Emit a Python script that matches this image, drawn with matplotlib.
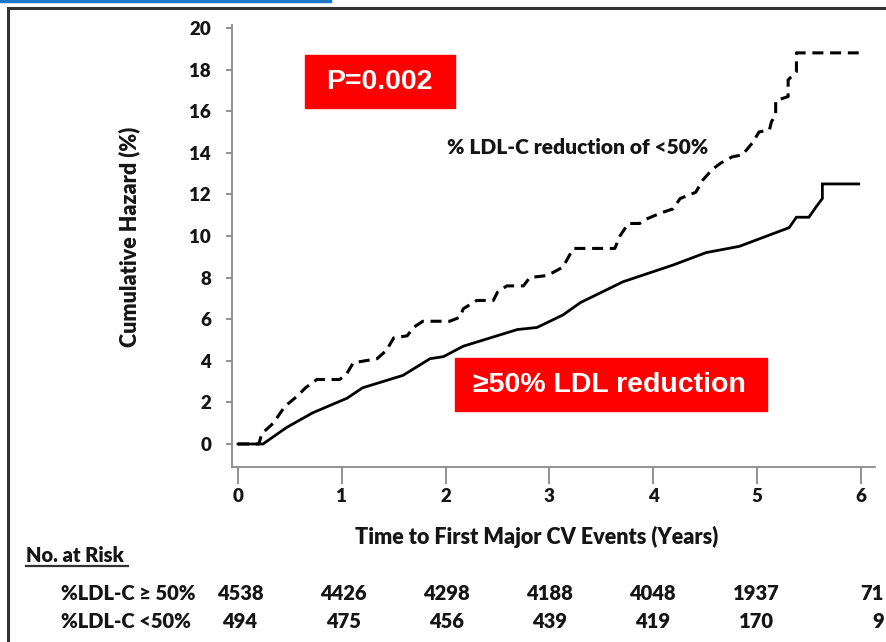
import matplotlib.pyplot as plt
from matplotlib.patches import Rectangle
from matplotlib.lines import Line2D

plt.rcParams["font.family"] = ["Lato", "DejaVu Sans"]
plt.rcParams["font.weight"] = "heavy"

W, H = 886, 642
TXT = "#151515"
WT = "heavy"

# ------------------------------------------------------------------ #
#  Data                                        #
# ------------------------------------------------------------------ #
# %LDL-C reduction >= 50% (solid)
hi_t = [0.0, 0.24, 0.47, 0.72, 1.05, 1.20, 1.59, 1.85, 1.98, 2.17, 2.43,
        2.69, 2.88, 3.13, 3.30, 3.71, 4.19, 4.51, 4.83, 5.15, 5.31, 5.38,
        5.50, 5.57, 5.63, 5.63, 5.98]
hi_h = [0.0, 0.0, 0.8, 1.5, 2.2, 2.7, 3.3, 4.1, 4.2, 4.7, 5.1,
        5.5, 5.6, 6.2, 6.8, 7.8, 8.6, 9.2, 9.5, 10.1, 10.4, 10.9,
        10.9, 11.4, 11.8, 12.5, 12.5]

# %LDL-C reduction < 50% (dashed)
lo_t = [0.0, 0.20, 0.23, 0.34, 0.45, 0.57, 0.65, 0.76, 0.98, 1.05, 1.11,
        1.34, 1.43, 1.50, 1.63, 1.69, 1.78, 2.04, 2.14, 2.17, 2.30, 2.46,
        2.50, 2.59, 2.75, 2.81, 2.98, 3.13, 3.23, 3.63, 3.68, 3.76, 3.87,
        3.93, 4.07, 4.19, 4.26, 4.41, 4.48, 4.57, 4.65, 4.76, 4.86, 4.96,
        5.02, 5.12, 5.14, 5.18, 5.18, 5.30, 5.30, 5.38, 5.38, 5.98]
lo_h = [0.0, 0.0, 0.5, 1.0, 1.8, 2.3, 2.7, 3.1, 3.1, 3.4, 3.9,
        4.1, 4.5, 5.1, 5.2, 5.6, 5.9, 5.9, 6.1, 6.5, 6.9, 6.9,
        7.3, 7.6, 7.6, 8.0, 8.1, 8.5, 9.4, 9.4, 10.0, 10.6, 10.6,
        10.8, 11.1, 11.3, 11.8, 12.1, 12.7, 13.2, 13.5, 13.8, 13.9, 14.5,
        15.0, 15.1, 15.5, 15.8, 16.5, 16.7, 17.5, 17.9, 18.8, 18.8]

x_ticks = [0, 1, 2, 3, 4, 5, 6]
y_ticks = [0, 2, 4, 6, 8, 10, 12, 14, 16, 18, 20]

risk_labels = ["%LDL-C \u2265 50%", "%LDL-C <50%"]
risk_hi = [4538, 4426, 4298, 4188, 4048, 1937, 71]
risk_lo = [494, 475, 456, 439, 419, 170, 9]


def fpx(x, y):
    """pixel position -> figure fraction"""
    return x / W, 1 - y / H


# ------------------------------------------------------------------ #
#  Figure                                                             #
# ------------------------------------------------------------------ #
fig = plt.figure(figsize=(W / 100, H / 100), dpi=100)

ax_l, ax_b = fpx(232, 467)
ax_r, ax_t = fpx(875, 25)
ax = fig.add_axes([ax_l, ax_b, ax_r - ax_l, ax_t - ax_b])

ax.plot(hi_t, hi_h, color="black", lw=2.0, solid_joinstyle="miter")
ax.plot(lo_t, lo_h, color="black", lw=2.2, linestyle=(0, (3.6, 2.2)))

ax.set_xlim(-0.058, 6.137)
ax.set_ylim(-1.106, 20.14)
ax.set_xticks(x_ticks)
ax.set_yticks(y_ticks)

for s in ["top", "right"]:
    ax.spines[s].set_visible(False)
for s in ["left", "bottom"]:
    ax.spines[s].set_color("#8a8a8a")
    ax.spines[s].set_linewidth(1.3)

ax.tick_params(axis="x", direction="out", length=12, width=1.3,
               color="#8a8a8a", pad=3, labelsize=13.5, labelcolor=TXT)
ax.tick_params(axis="y", direction="out", length=4, width=1.3,
               color="#8a8a8a", pad=11, labelsize=13.5, labelcolor=TXT)
for lab in ax.get_xticklabels() + ax.get_yticklabels():
    lab.set_fontweight(WT)

ax.set_ylabel("Cumulative Hazard (%)", fontsize=15.5, fontweight=WT,
              color=TXT)
ax.yaxis.set_label_coords((140 - 232) / (875 - 232), (467 - 237) / (467 - 25))

fig.text(*fpx(537, 537), "Time to First Major CV Events (Years)",
         ha="center", va="center", fontsize=15.5, fontweight=WT,
         color=TXT)

# in-plot annotations
fig.patches.append(Rectangle(fpx(305, 108), 150 / W, 53 / H,
                             transform=fig.transFigure, color="#ff0000",
                             zorder=3))
fig.text(*fpx(379, 82), "P=0.002", ha="center", va="center",
         family="Liberation Sans", fontsize=20.5, fontweight="bold",
         color="white", zorder=4)

fig.patches.append(Rectangle(fpx(455, 411), 312 / W, 53 / H,
                             transform=fig.transFigure, color="#ff0000",
                             zorder=3))
fig.text(*fpx(609, 385), "\u226550% LDL reduction", ha="center", va="center",
         family="Liberation Sans", fontsize=20.5, fontweight="bold",
         color="white", zorder=4)

fig.text(*fpx(578, 148), "% LDL-C reduction of <50%", ha="center",
         va="center", fontsize=15, fontweight=WT, color=TXT)

# number at risk table
fig.text(*fpx(26, 555), "No. at Risk", ha="left", va="center",
         fontsize=14.5, fontweight=WT, color=TXT)
fig.lines.append(Line2D([26 / W, 128 / W], [1 - 566 / H, 1 - 566 / H],
                        transform=fig.transFigure, color="#333333", lw=1.6))

row_y = [593, 622]
for lab, yy in zip(risk_labels, row_y):
    fig.text(*fpx(61, yy), lab, ha="left", va="center", fontsize=14.5,
             fontweight=WT, color=TXT)

for vals, yy in zip([risk_hi, risk_lo], row_y):
    for t, v in zip(x_ticks, vals):
        if t == x_ticks[-1]:
            fig.text(884 / W, 1 - yy / H, str(v), ha="right", va="center",
                     fontsize=14.5, fontweight=WT, color=TXT)
        else:
            fig.text((240 + t * 103.2) / W, 1 - yy / H, str(v), ha="center",
                     va="center", fontsize=14.5, fontweight=WT, color=TXT)

# outer frame and header line
fig.patches.append(Rectangle(fpx(8, 700), 900 / W, 692 / H,
                             transform=fig.transFigure, fill=False,
                             edgecolor="#333333", lw=2.2))
fig.lines.append(Line2D([0, 330 / W], [1 - 1 / H, 1 - 1 / H],
                        transform=fig.transFigure, color="#1f77c9", lw=2.5))

fig.savefig("out.png", dpi=100)
